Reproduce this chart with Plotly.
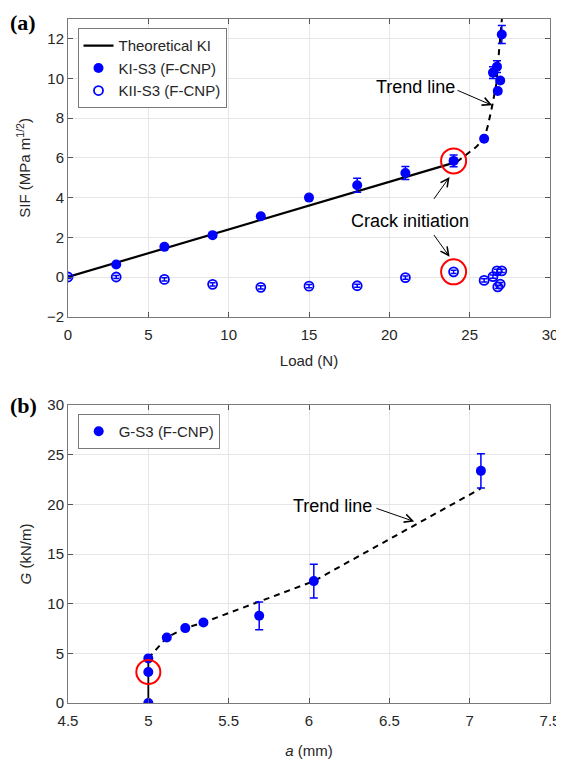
import plotly.graph_objects as go

# ---------- Panel (a) data ----------
load = [0, 3, 6, 9, 12, 15, 18, 21, 24, 25.9, 26.45, 26.7, 26.75, 26.9, 27.0]
KI = [None, 0.63, 1.52, 2.11, 3.06, 4.0, 4.62, 5.24, 5.85, 6.97, 10.3, 10.6, 9.37, 9.9, 12.22]
KI_err = [0, 0.08, 0.08, 0.08, 0.1, 0.12, 0.35, 0.33, 0.3, 0.1, 0.3, 0.3, 0.12, 0.12, 0.45]
KII = [0, 0.0, -0.12, -0.37, -0.52, -0.46, -0.44, -0.03, 0.26, -0.17, 0.02, 0.31, -0.5, -0.36, 0.31]
KII_err = [0.08] * len(load)

theo_load = [0, 24.2]
theo_KI = [0, 5.8]

trend_a_load = [24.2, 24.75, 25.4, 25.9, 26.14, 26.41, 26.66, 26.83, 26.97, 27.05]
trend_a_KI = [5.8, 6.13, 6.55, 6.97, 7.64, 8.65, 9.74, 11.4, 12.92, 13.4]

crack_a_load = [24, 24]
crack_a_val = [5.85, 0.26]

# ---------- Panel (b) data ----------
a_mm = [5.0, 5.0, 5.0, 5.115, 5.23, 5.343, 5.69, 6.03, 7.07]
G = [0.0, 3.12, 4.49, 6.6, 7.54, 8.11, 8.78, 12.27, 23.37]
G_err = [0, 0, 0, 0.15, 0.15, 0.2, 1.4, 1.7, 1.72]

solid_b_a = [5.0, 5.0]
solid_b_G = [0.0, 4.49]
trend_b_a = [5.0, 5.115, 5.23, 5.343, 6.03, 7.07]
trend_b_G = [4.49, 6.6, 7.55, 8.1, 12.27, 21.6]

crack_b_a = [5.0]
crack_b_G = [3.12]

BLUE = "#0000ff"
TXT = "#262626"
FONT = "Liberation Sans, Arial, sans-serif"

fig = go.Figure()

# (a) traces
fig.add_trace(go.Scatter(x=theo_load, y=theo_KI, mode="lines", name="Theoretical KI",
                         line=dict(color="black", width=2.2), xaxis="x", yaxis="y", legend="legend"))
fig.add_trace(go.Scatter(x=trend_a_load, y=trend_a_KI, mode="lines", showlegend=False,
                         line=dict(color="black", width=2, dash="6px,5px"), xaxis="x", yaxis="y"))
fig.add_trace(go.Scatter(x=load, y=KI, mode="markers", name="KI-S3 (F-CNP)",
                         marker=dict(color=BLUE, size=10, symbol="circle"),
                         error_y=dict(type="data", array=KI_err, color=BLUE, thickness=1.5, width=4),
                         xaxis="x", yaxis="y", legend="legend"))
fig.add_trace(go.Scatter(x=load, y=KII, mode="markers", name="KII-S3 (F-CNP)",
                         marker=dict(color=BLUE, size=9, symbol="circle-open", line=dict(width=1.8, color=BLUE)),
                         error_y=dict(type="data", array=KII_err, color=BLUE, thickness=1.5, width=3),
                         xaxis="x", yaxis="y", legend="legend"))
fig.add_trace(go.Scatter(x=crack_a_load, y=crack_a_val, mode="markers", showlegend=False,
                         marker=dict(symbol="circle-open", size=25, color="red", line=dict(width=2, color="red")),
                         xaxis="x", yaxis="y"))

# (b) traces
fig.add_trace(go.Scatter(x=solid_b_a, y=solid_b_G, mode="lines", showlegend=False,
                         line=dict(color="black", width=1.8), xaxis="x2", yaxis="y2"))
fig.add_trace(go.Scatter(x=trend_b_a, y=trend_b_G, mode="lines", showlegend=False,
                         line=dict(color="black", width=2, dash="6px,5px"), xaxis="x2", yaxis="y2"))
fig.add_trace(go.Scatter(x=a_mm, y=G, mode="markers", name="G-S3 (F-CNP)",
                         marker=dict(color=BLUE, size=10, symbol="circle"),
                         error_y=dict(type="data", array=G_err, color=BLUE, thickness=1.5, width=4),
                         xaxis="x2", yaxis="y2", legend="legend2"))
fig.add_trace(go.Scatter(x=crack_b_a, y=crack_b_G, mode="markers", showlegend=False,
                         marker=dict(symbol="circle-open", size=24, color="red", line=dict(width=2, color="red")),
                         xaxis="x2", yaxis="y2"))

axis_common = dict(showgrid=True, gridcolor="#e6e6e6", gridwidth=1, zeroline=False,
                   showline=True, linecolor="#7a7a7a", linewidth=1, mirror="ticks",
                   ticks="inside", ticklen=5, tickcolor="#555555", automargin=False,
                   tickfont=dict(family=FONT, size=15, color=TXT))

# The page body has an 8px margin, so the figure is 556x752 and sits at (8, 8).
# Plot area in page pixels: left 68, right 550, top 19, bottom 703.
OFF = 8
W, H = 564 - OFF, 760 - OFF
ML, MR, MT, MB = 68 - OFF, 14, 19 - OFF, 57
PH = H - MT - MB
PW = W - ML - MR

def yfrac(py):
    return 1 - (py - OFF - MT) / PH

def xfrac(px):
    return (px - OFF - ML) / PW

title_font = dict(size=15, family=FONT, color=TXT)
fig.update_layout(
    width=W, height=H,
    margin=dict(l=ML, r=MR, t=MT, b=MB),
    paper_bgcolor="white", plot_bgcolor="white",
    font=dict(family=FONT, color=TXT),
    xaxis=dict(axis_common, domain=[0, 1], range=[0, 30], dtick=5, anchor="y", ticklabelstandoff=4,
               title=dict(text="Load (N)", font=title_font, standoff=13)),
    yaxis=dict(axis_common, domain=[yfrac(316.7), 1], range=[-2, 13], tickvals=[-2, 0, 2, 4, 6, 8, 10, 12],
               anchor="x",
               title=dict(text="SIF (MPa m<sup>1/2</sup>)", font=title_font, standoff=12)),
    xaxis2=dict(axis_common, domain=[0, 1], range=[4.5, 7.5], dtick=0.5, anchor="y2", ticklabelstandoff=4,
                title=dict(text="<i>a</i> (mm)", font=title_font, standoff=17)),
    yaxis2=dict(axis_common, domain=[0, yfrac(405)], range=[0, 30], dtick=5, anchor="x2",
                title=dict(text="<i>G</i> (kN/m)", font=title_font, standoff=12)),
    legend=dict(x=xfrac(77.5), y=yfrac(28.3), xanchor="left", yanchor="top",
                bgcolor="white", bordercolor="#7a7a7a", borderwidth=1,
                font=dict(family=FONT, size=15, color=TXT), tracegroupgap=0, itemwidth=30),
    legend2=dict(x=xfrac(77.7), y=yfrac(414), xanchor="left", yanchor="top",
                 bgcolor="white", bordercolor="#7a7a7a", borderwidth=1,
                 font=dict(family=FONT, size=15, color=TXT), itemwidth=30),
)

ann = []
serif = dict(family="Liberation Serif, Times New Roman, serif", size=22, color="black")
ann.append(dict(text="<b>(a)</b>", x=xfrac(8), y=yfrac(22), xref="paper", yref="paper",
                xanchor="left", yanchor="middle", showarrow=False, font=serif))
ann.append(dict(text="<b>(b)</b>", x=xfrac(8), y=yfrac(405), xref="paper", yref="paper",
                xanchor="left", yanchor="middle", showarrow=False, font=serif))
txtfont = dict(family=FONT, size=18, color="black")
# (a) annotations
ann.append(dict(text="Trend line", x=21.63, y=9.57, xref="x", yref="y", showarrow=False, font=txtfont))
ann.append(dict(text="", x=26.4, y=8.65, ax=24.15, ay=9.44, xref="x", yref="y", axref="x", ayref="y",
                showarrow=True, arrowhead=5, arrowsize=1.6, arrowwidth=1, arrowcolor="black", standoff=0))
ann.append(dict(text="Crack initiation", x=21.26, y=2.83, xref="x", yref="y", showarrow=False, font=txtfont))
ann.append(dict(text="", x=23.75, y=5.04, ax=22.71, ay=3.86, xref="x", yref="y", axref="x", ayref="y",
                showarrow=True, arrowhead=5, arrowsize=1.6, arrowwidth=1, arrowcolor="black", standoff=0))
ann.append(dict(text="", x=23.75, y=1.02, ax=22.71, ay=2.19, xref="x", yref="y", axref="x", ayref="y",
                showarrow=True, arrowhead=5, arrowsize=1.6, arrowwidth=1, arrowcolor="black", standoff=0))
# (b) annotations
ann.append(dict(text="Trend line", x=6.148, y=19.85, xref="x2", yref="y2", showarrow=False, font=txtfont))
ann.append(dict(text="", x=6.655, y=18.27, ax=6.41, ay=19.65, xref="x2", yref="y2", axref="x2", ayref="y2",
                showarrow=True, arrowhead=5, arrowsize=1.6, arrowwidth=1, arrowcolor="black", standoff=0))
fig.update_layout(annotations=ann)

fig.write_html("out.html")
